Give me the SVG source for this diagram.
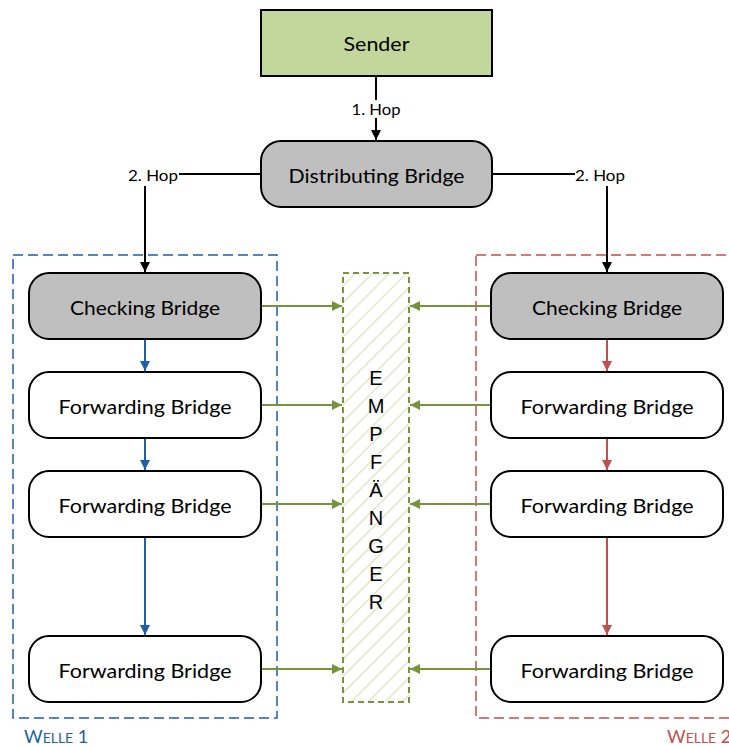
<svg xmlns="http://www.w3.org/2000/svg" width="729" height="747" viewBox="0 0 729 747">
  <style>
    .node { stroke: #000; stroke-width: 2; }
    .lbl { font-family: Lato, "Liberation Sans", sans-serif; font-size: 20px; fill: #000; text-anchor: middle; dominant-baseline: central; }
    .hop { font-family: Lato, "Liberation Sans", sans-serif; font-size: 15px; fill: #000; text-anchor: middle; dominant-baseline: central; }
    .vert { font-family: "Liberation Sans", Arial, sans-serif; font-size: 20px; fill: #000; text-anchor: middle; dominant-baseline: central; }
    .wave { font-family: Lato, "Liberation Sans", sans-serif; }
    .c-black { stroke: #000; stroke-width: 2; fill: none; }
    .c-blue { stroke: #1f5ea8; stroke-width: 2; fill: none; }
    .c-red { stroke: #c0504d; stroke-width: 2; fill: none; }
    .c-green { stroke: #77933c; stroke-width: 2; fill: none; }
  </style>
  <defs>
    <marker id="ah-black" viewBox="0 0 10 10" refX="10" refY="5" markerWidth="5" markerHeight="5" orient="auto" markerUnits="strokeWidth">
      <path d="M0 0 L10 5 L0 10 Z" fill="#000"/>
    </marker>
    <marker id="ah-blue" viewBox="0 0 10 10" refX="10" refY="5" markerWidth="5" markerHeight="5" orient="auto" markerUnits="strokeWidth">
      <path d="M0 0 L10 5 L0 10 Z" fill="#1f5ea8"/>
    </marker>
    <marker id="ah-red" viewBox="0 0 10 10" refX="10" refY="5" markerWidth="5" markerHeight="5" orient="auto" markerUnits="strokeWidth">
      <path d="M0 0 L10 5 L0 10 Z" fill="#c0504d"/>
    </marker>
    <marker id="ah-green" viewBox="0 0 10 10" refX="10" refY="5" markerWidth="5" markerHeight="5" orient="auto" markerUnits="strokeWidth">
      <path d="M0 0 L10 5 L0 10 Z" fill="#77933c"/>
    </marker>
    <pattern id="hatch" patternUnits="userSpaceOnUse" width="12" height="12" patternTransform="rotate(45)">
      <rect width="12" height="12" fill="#fff"/>
      <line x1="0" y1="0" x2="0" y2="12" stroke="#d7e4bd" stroke-width="2.5"/>
    </pattern>
  </defs>

  <!-- wave containers -->
  <g id="welle1">
    <rect x="13" y="255" width="264" height="463" fill="none" stroke="#1f5ea8" stroke-width="1.5" stroke-dasharray="10 5"/>
    <text class="wave" x="24" y="743" fill="#1f5ea8"><tspan font-size="18">W</tspan><tspan font-size="14">ELLE</tspan><tspan font-size="18"> 1</tspan></text>
  </g>
  <g id="welle2">
    <rect x="476" y="255" width="270" height="463" fill="none" stroke="#c0504d" stroke-width="1.5" stroke-dasharray="10 5"/>
    <text class="wave" x="667" y="743" fill="#c0504d"><tspan font-size="18">W</tspan><tspan font-size="14">ELLE</tspan><tspan font-size="18"> 2</tspan></text>
  </g>

  <!-- receiver column -->
  <g id="empfaenger">
    <rect x="343" y="273" width="66" height="429" fill="url(#hatch)" stroke="#77933c" stroke-width="2" stroke-dasharray="6 4"/>
    <text class="vert" x="376" y="378">E</text>
    <text class="vert" x="376" y="406">M</text>
    <text class="vert" x="376" y="434">P</text>
    <text class="vert" x="376" y="462">F</text>
    <text class="vert" x="376" y="490">Ä</text>
    <text class="vert" x="376" y="518">N</text>
    <text class="vert" x="376" y="546">G</text>
    <text class="vert" x="376" y="574">E</text>
    <text class="vert" x="376" y="602">R</text>
  </g>

  <!-- connectors -->
  <g id="connectors">
    <path class="c-black" d="M376 76 V140" marker-end="url(#ah-black)"/>
    <path class="c-black" d="M261 174 H145 V272" marker-end="url(#ah-black)"/>
    <path class="c-black" d="M492 174 H607 V272" marker-end="url(#ah-black)"/>

    <path class="c-blue" d="M145 339 V371" marker-end="url(#ah-blue)"/>
    <path class="c-blue" d="M145 438 V470" marker-end="url(#ah-blue)"/>
    <path class="c-blue" d="M145 537 V635" marker-end="url(#ah-blue)"/>

    <path class="c-red" d="M607 339 V371" marker-end="url(#ah-red)"/>
    <path class="c-red" d="M607 438 V470" marker-end="url(#ah-red)"/>
    <path class="c-red" d="M607 537 V635" marker-end="url(#ah-red)"/>

    <path class="c-green" d="M261 306 H342" marker-end="url(#ah-green)"/>
    <path class="c-green" d="M261 405 H342" marker-end="url(#ah-green)"/>
    <path class="c-green" d="M261 504 H342" marker-end="url(#ah-green)"/>
    <path class="c-green" d="M261 669 H342" marker-end="url(#ah-green)"/>
    <path class="c-green" d="M491 306 H410" marker-end="url(#ah-green)"/>
    <path class="c-green" d="M491 405 H410" marker-end="url(#ah-green)"/>
    <path class="c-green" d="M491 504 H410" marker-end="url(#ah-green)"/>
    <path class="c-green" d="M491 669 H410" marker-end="url(#ah-green)"/>

    <!-- hop labels -->
    <rect x="350" y="100" width="52" height="18" fill="#fff"/>
    <text class="hop" x="376" y="109" textLength="49" lengthAdjust="spacingAndGlyphs">1. Hop</text>
    <rect x="127" y="166" width="52" height="20" fill="#fff"/>
    <text class="hop" x="153" y="175" textLength="50" lengthAdjust="spacingAndGlyphs">2. Hop</text>
    <rect x="575" y="166" width="52" height="20" fill="#fff"/>
    <text class="hop" x="600" y="175" textLength="50" lengthAdjust="spacingAndGlyphs">2. Hop</text>
  </g>

  <!-- nodes -->
  <g id="sender">
    <rect class="node" x="261" y="10" width="231" height="66" fill="#c3d69b"/>
    <text class="lbl" x="376.5" y="43" textLength="66" lengthAdjust="spacingAndGlyphs">Sender</text>
  </g>
  <g id="distributing">
    <rect class="node" x="261" y="141" width="231" height="66" rx="20" fill="#bfbfbf"/>
    <text class="lbl" x="376.5" y="175" textLength="176" lengthAdjust="spacingAndGlyphs">Distributing Bridge</text>
  </g>

  <g id="checking1">
    <rect class="node" x="29" y="273" width="232" height="66" rx="20" fill="#bfbfbf"/>
    <text class="lbl" x="145" y="307" textLength="150" lengthAdjust="spacingAndGlyphs">Checking Bridge</text>
  </g>
  <g id="forward1a">
    <rect class="node" x="29" y="372" width="232" height="66" rx="20" fill="#fff"/>
    <text class="lbl" x="145" y="406" textLength="173" lengthAdjust="spacingAndGlyphs">Forwarding Bridge</text>
  </g>
  <g id="forward1b">
    <rect class="node" x="29" y="471" width="232" height="66" rx="20" fill="#fff"/>
    <text class="lbl" x="145" y="505" textLength="173" lengthAdjust="spacingAndGlyphs">Forwarding Bridge</text>
  </g>
  <g id="forward1c">
    <rect class="node" x="29" y="636" width="232" height="66" rx="20" fill="#fff"/>
    <text class="lbl" x="145" y="670" textLength="173" lengthAdjust="spacingAndGlyphs">Forwarding Bridge</text>
  </g>

  <g id="checking2">
    <rect class="node" x="491" y="273" width="232" height="66" rx="20" fill="#bfbfbf"/>
    <text class="lbl" x="607" y="307" textLength="150" lengthAdjust="spacingAndGlyphs">Checking Bridge</text>
  </g>
  <g id="forward2a">
    <rect class="node" x="491" y="372" width="232" height="66" rx="20" fill="#fff"/>
    <text class="lbl" x="607" y="406" textLength="173" lengthAdjust="spacingAndGlyphs">Forwarding Bridge</text>
  </g>
  <g id="forward2b">
    <rect class="node" x="491" y="471" width="232" height="66" rx="20" fill="#fff"/>
    <text class="lbl" x="607" y="505" textLength="173" lengthAdjust="spacingAndGlyphs">Forwarding Bridge</text>
  </g>
  <g id="forward2c">
    <rect class="node" x="491" y="636" width="232" height="66" rx="20" fill="#fff"/>
    <text class="lbl" x="607" y="670" textLength="173" lengthAdjust="spacingAndGlyphs">Forwarding Bridge</text>
  </g>
</svg>
